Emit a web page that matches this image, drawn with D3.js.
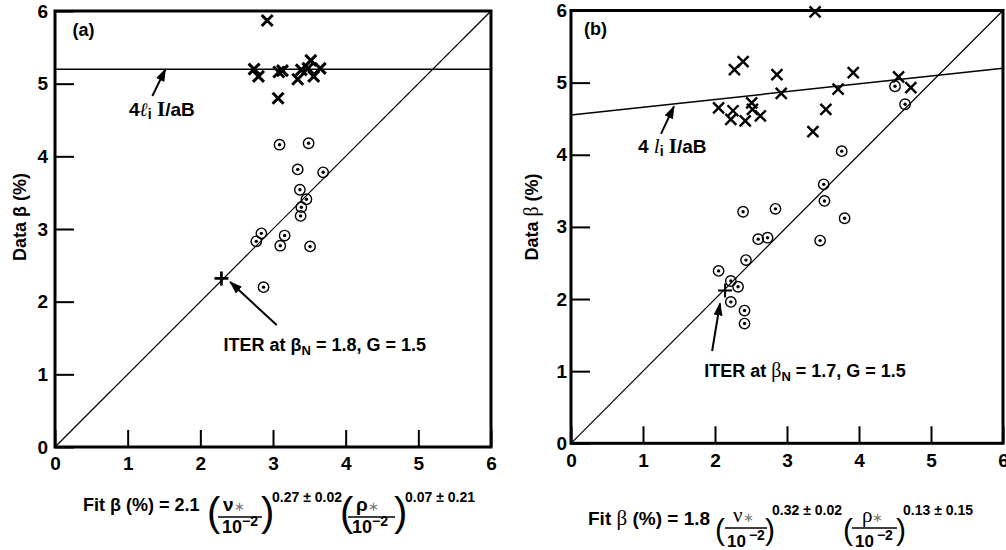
<!DOCTYPE html>
<html>
<head>
<meta charset="utf-8">
<script src="https://cdn.jsdelivr.net/npm/d3@7"></script>
<style>
  body { margin: 0; background: #fff; }
  svg text { font-family: "Liberation Sans", Arial, sans-serif; font-weight: bold; fill: #000; }
  svg text .serif, svg text.serif { font-family: "Liberation Serif", "Times New Roman", serif; }
</style>
</head>
<body>
<svg id="chart" width="1006" height="550"></svg>
<script>
// Data (fit beta vs data beta, both in %)
const TICKS = [0, 1, 2, 3, 4, 5, 6]
const DIAGONAL = [[0, 0], [6, 6]]

// panel (a)
const LI_LINE_A = [[0, 5.2], [6, 5.2]]
const CROSSES_A = [[2.92, 5.87], [2.74, 5.20], [2.80, 5.10], [3.07, 4.80], [3.08, 5.16],
  [3.13, 5.18], [3.34, 5.06], [3.39, 5.19], [3.52, 5.32], [3.48, 5.21], [3.56, 5.10], [3.65, 5.21]]
const CIRCLES_A = [[3.09, 4.16], [3.49, 4.18], [3.34, 3.82], [3.69, 3.78], [3.37, 3.54],
  [3.46, 3.41], [3.39, 3.30], [3.38, 3.18], [2.84, 2.94], [2.77, 2.83], [3.16, 2.91],
  [3.10, 2.77], [3.51, 2.76], [2.87, 2.20]]
const ITER_A = [2.29, 2.32]

// panel (b)
const LI_LINE_B = [[0, 4.55], [6, 5.2]]
const CROSSES_B = [[3.39, 5.98], [2.27, 5.18], [2.39, 5.29], [2.05, 4.65], [2.25, 4.61],
  [2.22, 4.49], [2.42, 4.47], [2.51, 4.72], [2.52, 4.63], [2.63, 4.54], [2.86, 5.11],
  [2.92, 4.85], [3.36, 4.32], [3.54, 4.63], [3.71, 4.91], [3.92, 5.14], [4.55, 5.08], [4.72, 4.93]]
const CIRCLES_B = [[4.50, 4.95], [4.64, 4.70], [3.76, 4.05], [3.51, 3.59], [3.52, 3.36],
  [3.80, 3.12], [3.46, 2.81], [2.39, 3.21], [2.84, 3.25], [2.60, 2.83], [2.73, 2.85],
  [2.43, 2.54], [2.05, 2.39], [2.22, 2.25], [2.32, 2.17], [2.22, 1.96], [2.41, 1.84], [2.41, 1.66]]
const ITER_B = [2.14, 2.12]

const svg = d3.select("#chart")

// arrow head marker
svg.append("defs").append("marker")
    .attr("id", "head")
    .attr("markerUnits", "userSpaceOnUse")
    .attr("markerWidth", 14).attr("markerHeight", 10)
    .attr("refX", 12).attr("refY", 5)
    .attr("orient", "auto")
  .append("path")
    .attr("d", "M0,0.5L13,5L0,9.5Z")
    .attr("fill", "#000")

const line = d3.line()

function drawPanel(cfg) {
  const x = d3.scaleLinear().domain([0, 6]).range(cfg.xRange)
  const y = d3.scaleLinear().domain([0, 6]).range(cfg.yRange)
  const g = svg.append("g")
  line.x(d => x(d[0])).y(d => y(d[1]))

  // axes: ticks point inside the box
  const yAxis = g.append("g")
      .attr("transform", "translate(" + x(0) + ",0)")
      .call(d3.axisLeft(y).tickValues(TICKS).tickSize(-19).tickPadding(cfg.yPad).tickFormat(d3.format("d")))
  const xAxis = g.append("g")
      .attr("transform", "translate(0," + y(0) + ")")
      .call(d3.axisBottom(x).tickValues(TICKS).tickSize(-17).tickPadding(10).tickFormat(d3.format("d")))
  for (const ax of [yAxis, xAxis]) {
    ax.attr("font-family", null).attr("font-size", null)
    ax.select(".domain").remove()
    ax.selectAll(".tick line").attr("stroke-width", 2)
    ax.selectAll(".tick text").style("font-size", "19px")
  }

  g.append("rect")
      .attr("x", x(0)).attr("y", y(6))
      .attr("width", x(6) - x(0)).attr("height", y(0) - y(6))
      .attr("fill", "none").attr("stroke", "#000").attr("stroke-width", 3)

  g.append("path").attr("d", line(DIAGONAL))
      .attr("fill", "none").attr("stroke", "#000").attr("stroke-width", 1.2)
  g.append("path").attr("d", line(cfg.liLine))
      .attr("fill", "none").attr("stroke", "#000").attr("stroke-width", 1.5)

  // x markers
  g.selectAll(".cross").data(cfg.crosses).enter()
    .append("path")
      .attr("class", "cross")
      .attr("transform", d => "translate(" + x(d[0]) + "," + y(d[1]) + ")")
      .attr("d", "M-5.5,-5.5L5.5,5.5M-5.5,5.5L5.5,-5.5")
      .attr("stroke", "#000").attr("stroke-width", cfg.crossWidth)

  // circle-dot markers
  const c = g.selectAll(".cdot").data(cfg.circles).enter()
    .append("g")
      .attr("class", "cdot")
      .attr("transform", d => "translate(" + x(d[0]) + "," + y(d[1]) + ")")
  c.append("circle").attr("r", 5.2).attr("fill", "none").attr("stroke", "#000").attr("stroke-width", 1.4)
  c.append("circle").attr("r", 1.7).attr("fill", "#000")

  // ITER point
  g.append("path")
      .attr("transform", "translate(" + x(cfg.iter[0]) + "," + y(cfg.iter[1]) + ")")
      .attr("d", "M-7,0L7,0M0,-7L0,7")
      .attr("stroke", "#000").attr("stroke-width", cfg.plusWidth)

  // annotations
  for (const a of cfg.arrows) {
    g.append("line")
        .attr("x1", x(a[0][0])).attr("y1", y(a[0][1]))
        .attr("x2", x(a[1][0])).attr("y2", y(a[1][1]))
        .attr("stroke", "#000").attr("stroke-width", 2)
        .attr("marker-end", "url(#head)")
  }

  g.append("text").attr("x", x(cfg.labelPos[0])).attr("y", y(cfg.labelPos[1]))
      .style("font-size", "18px").text(cfg.label)

  const li = g.append("text").attr("x", x(cfg.liText[0])).attr("y", y(cfg.liText[1]))
      .style("font-size", "19px")
  cfg.liParts(li)

  const it = g.append("text").attr("x", x(cfg.iterText[0])).attr("y", y(cfg.iterText[1]))
      .style("font-size", "18px")
  it.append("tspan").text("ITER at ")
  it.append("tspan").attr("class", cfg.serifGreek ? "serif" : null)
      .style("font-weight", cfg.serifGreek ? "normal" : null)
      .style("font-size", cfg.serifGreek ? "20px" : null).text("β")
  it.append("tspan").attr("dy", 4).style("font-size", "13px").text("N")
  it.append("tspan").attr("dy", -4).text(cfg.iterRest)

  // y title
  const yt = g.append("text")
      .attr("transform", "translate(" + cfg.yTitle[0] + "," + cfg.yTitle[1] + ") rotate(-90)")
      .attr("text-anchor", "middle")
      .style("font-size", "18px")
  yt.append("tspan").text("Data ")
  yt.append("tspan").attr("class", cfg.serifGreek ? "serif" : null)
      .style("font-weight", cfg.serifGreek ? "normal" : null)
      .style("font-size", cfg.serifGreek ? "20px" : null).text("β")
  yt.append("tspan").text(" (%)")

  drawFormula(g, cfg.formula, cfg.serifGreek)
}

// Fit formula: text, big parens, two fractions, superscript exponents
function drawFormula(g, f, serif) {
  const greek = sel => sel.attr("class", serif ? "serif" : null)
      .style("font-weight", serif ? "normal" : null)
      .style("font-size", serif ? (f.size + 2) + "px" : null)
  const main = g.append("text").attr("x", f.x).attr("y", f.base).style("font-size", f.size + "px")
  main.append("tspan").text("Fit ")
  main.append("tspan").call(greek).text("β")
  main.append("tspan").text(" (%) = " + f.coef)

  f.groups.forEach(grp => {
    g.append("text").attr("x", grp.open).attr("y", f.parenBase)
        .style("font-size", f.parenSize + "px").style("font-weight", "normal").text("(")
    const num = g.append("text").attr("x", grp.num).attr("y", f.numBase).style("font-size", f.numSize + "px")
    num.append("tspan").call(greek).text(grp.sym)
    num.append("tspan").style("font-size", "13px").style("font-weight", "normal")
        .style("fill", "#777").text("∗")
    g.append("line").attr("x1", grp.line[0]).attr("x2", grp.line[1])
        .attr("y1", f.lineY).attr("y2", f.lineY)
        .attr("stroke", "#000").attr("stroke-width", 1.6)
    const den = g.append("text").attr("x", grp.den).attr("y", f.denBase).style("font-size", f.denSize + "px")
    den.append("tspan").text("10")
    den.append("tspan").attr("dx", f.gap).attr("dy", -7).style("font-size", "14px").text("−2")
    g.append("text").attr("x", grp.close).attr("y", f.parenBase)
        .style("font-size", f.parenSize + "px").style("font-weight", "normal").text(")")
    g.append("text").attr("x", grp.sup).attr("y", f.supBase)
        .style("font-size", "14px").text(grp.exp)
  })
}

drawPanel({
  xRange: [55, 491], yRange: [447, 11], yPad: 7,
  liLine: LI_LINE_A, crosses: CROSSES_A, circles: CIRCLES_A, iter: ITER_A,
  crossWidth: 3, plusWidth: 2.8, serifGreek: false,
  arrows: [[[1.34, 4.83], [1.52, 5.2]], [[3.05, 1.68], [2.41, 2.27]]],
  label: "(a)", labelPos: [0.24, 5.66],
  liText: [1.02, 4.55],
  liParts: t => {
    t.append("tspan").text("4")
    t.append("tspan").attr("class", "serif").style("font-style", "italic").text("ℓ")
    t.append("tspan").attr("dy", 3).style("font-size", "14px").text("i")
    t.append("tspan").attr("dy", -3).text(" ")
    t.append("tspan").attr("class", "serif").style("font-size", "21px").text("I")
    t.append("tspan").text("/aB")
  },
  iterText: [2.32, 1.32], iterRest: " = 1.8, G = 1.5",
  yTitle: [26, 217],
  formula: {
    x: 83, base: 511, size: 18, numSize: 19, denSize: 18, coef: "2.1", gap: 0,
    parenSize: 40, parenBase: 526, numBase: 511, lineY: 517, denBase: 533, supBase: 502,
    groups: [
      {sym: "ν", open: 207, num: 223, line: [218, 262], den: 222, close: 261, sup: 272, exp: "0.27 ± 0.02"},
      {sym: "ρ", open: 340, num: 356, line: [348, 395], den: 352, close: 394, sup: 405, exp: "0.07 ± 0.21"}
    ]
  }
})

drawPanel({
  xRange: [571, 1003], yRange: [443.3, 10.5], yPad: 4,
  liLine: LI_LINE_B, crosses: CROSSES_B, circles: CIRCLES_B, iter: ITER_B,
  crossWidth: 2.4, plusWidth: 2, serifGreek: true,
  arrows: [[[1.25, 4.29], [1.43, 4.67]], [[1.96, 1.28], [2.07, 1.94]]],
  label: "(b)", labelPos: [0.18, 5.66],
  liText: [0.93, 4.02],
  liParts: t => {
    t.append("tspan").text("4 ")
    t.append("tspan").attr("class", "serif").style("font-style", "italic").style("font-weight", "normal")
        .style("font-size", "21px").text("l")
    t.append("tspan").attr("dy", 3).style("font-size", "14px").text("i")
    t.append("tspan").attr("dy", -3).text(" ")
    t.append("tspan").attr("class", "serif").style("font-size", "21px").text("I")
    t.append("tspan").text("/aB")
  },
  iterText: [1.85, 0.92], iterRest: " = 1.7, G = 1.5",
  yTitle: [538, 217],
  formula: {
    x: 588, base: 525, size: 19, numSize: 19, denSize: 17, coef: "1.8", gap: 3,
    parenSize: 30, parenBase: 540, numBase: 522, lineY: 528, denBase: 547, supBase: 515,
    groups: [
      {sym: "ν", open: 715, num: 733, line: [725, 767], den: 727, close: 765, sup: 772, exp: "0.32 ± 0.02"},
      {sym: "ρ", open: 843, num: 862, line: [852, 897], den: 855, close: 896, sup: 903, exp: "0.13 ± 0.15"}
    ]
  }
})
</script>
</body>
</html>
